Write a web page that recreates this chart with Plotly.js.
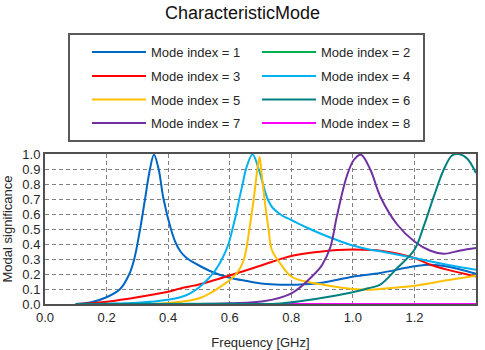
<!DOCTYPE html>
<html>
<head>
<meta charset="utf-8">
<script src="https://cdn.plot.ly/plotly-3.0.1.min.js"></script>
<style>html,body{margin:0;padding:0;background:#fff;}#chart{width:485px;height:350px;}</style>
</head>
<body>
<div id="chart"></div>
<script>
// ---- data ----
const modeNames = ['Mode index = 1','Mode index = 2','Mode index = 3','Mode index = 4',
                   'Mode index = 5','Mode index = 6','Mode index = 7','Mode index = 8'];
const modeColors = ['#0066C4','#00B050','#FF0000','#00B0F0','#FFC000','#008080','#7030A0','#FF00FF'];

const freq1 = [0.10,0.15,0.20,0.244,0.274,0.29,0.309,0.325,0.341,0.354,0.369,0.385,0.409,0.424,0.44,0.461,0.493,0.547,0.60,0.656,0.71,0.764,0.818,0.894,1.003,1.089,1.20,1.252,1.306,1.40];
const mode1 = [0.00,0.012,0.045,0.10,0.20,0.30,0.50,0.70,0.90,0.995,0.90,0.70,0.50,0.41,0.35,0.305,0.265,0.21,0.175,0.153,0.135,0.129,0.129,0.14,0.184,0.207,0.251,0.262,0.25,0.202];

const freq2 = [0.10,0.40,0.80,1.10,1.40];
const mode2 = [0,0,0,0,0];

const freq3 = [0.10,0.15,0.20,0.30,0.40,0.44,0.47,0.50,0.60,0.70,0.80,0.90,0.95,1.00,1.06,1.089,1.20,1.252,1.306,1.40];
const mode3 = [0.00,0.005,0.015,0.045,0.082,0.104,0.117,0.13,0.19,0.255,0.32,0.35,0.36,0.363,0.36,0.355,0.307,0.262,0.229,0.184];

const freq4 = [0.10,0.20,0.30,0.40,0.44,0.47,0.504,0.547,0.575,0.596,0.609,0.621,0.631,0.642,0.653,0.674,0.694,0.708,0.723,0.74,0.77,0.80,0.85,0.90,0.95,1.00,1.057,1.089,1.20,1.306,1.40];
const mode4 = [0.00,0.002,0.008,0.028,0.045,0.069,0.117,0.207,0.30,0.40,0.50,0.60,0.70,0.80,0.90,0.998,0.90,0.80,0.70,0.64,0.59,0.56,0.51,0.465,0.425,0.39,0.362,0.351,0.307,0.262,0.229];

const freq5 = [0.10,0.30,0.363,0.40,0.47,0.504,0.547,0.58,0.60,0.625,0.645,0.655,0.664,0.678,0.690,0.697,0.702,0.713,0.726,0.737,0.764,0.802,0.873,0.927,1.00,1.057,1.089,1.20,1.306,1.40];
const mode5 = [0.00,0.00,0.002,0.007,0.024,0.04,0.084,0.13,0.16,0.21,0.29,0.38,0.50,0.70,0.90,0.98,0.90,0.70,0.50,0.36,0.27,0.18,0.14,0.12,0.10,0.095,0.10,0.122,0.158,0.189];

const freq6 = [0.10,0.60,0.764,0.85,0.927,1.003,1.05,1.089,1.144,1.20,1.23,1.263,1.295,1.322,1.344,1.371,1.40];
const mode6 = [0.00,0.001,0.004,0.025,0.05,0.08,0.105,0.129,0.24,0.362,0.517,0.717,0.895,0.99,1.00,0.97,0.873];

const freq7 = [0.50,0.60,0.71,0.802,0.873,0.90,0.927,0.948,0.98,1.003,1.026,1.057,1.089,1.144,1.20,1.252,1.295,1.35,1.40];
const mode7 = [0.00,0.005,0.018,0.073,0.195,0.26,0.38,0.584,0.85,0.96,0.995,0.895,0.717,0.53,0.417,0.355,0.335,0.357,0.373];

const freq8 = [0.10,0.40,0.80,1.10,1.40];
const mode8 = [0,0,0,0,0];

const xTicks = [0,0.2,0.4,0.6,0.8,1.0,1.2,1.4];

// ---- build traces ----
const freqs = [freq1,freq2,freq3,freq4,freq5,freq6,freq7,freq8];
const vals  = [mode1,mode2,mode3,mode4,mode5,mode6,mode7,mode8];
const legendIds = ['legend','legend','legend2','legend2','legend3','legend3','legend4','legend4'];
const drawOrder = [1,7,0,2,3,4,6,5];
const traces = drawOrder.map(i => ({
  type:'scatter', mode:'lines', name: modeNames[i], x: freqs[i], y: vals[i],
  legend: legendIds[i], legendrank: i+1,
  line:{color: modeColors[i], width:2, shape:'spline', smoothing:1.0}
}));

const FONT = 'Arial, "Liberation Sans", sans-serif';
function rowLegend(yPx){
  return {orientation:'h', xref:'container', yref:'container', x:87/485, xanchor:'left',
          y:1 - yPx/350, yanchor:'middle', entrywidth:101, entrywidthmode:'pixels', itemwidth:54,
          traceorder:'normal', bgcolor:'rgba(0,0,0,0)', borderwidth:0,
          font:{family:FONT, size:13, color:'#262626'}};
}
const layout = {
  width:485, height:350,
  margin:{l:45, r:9, t:154, b:46},
  paper_bgcolor:'#fff', plot_bgcolor:'#fff',
  font:{family:FONT, size:13, color:'#262626'},
  title:{text:'CharacteristicMode', font:{family:FONT, size:18, color:'#111'},
         xref:'container', x:0.5, xanchor:'center', yref:'container', y:1 - 13/350, yanchor:'middle'},
  xaxis:{range:[0,1.4], tickvals:xTicks, tickformat:'.1f', showgrid:true, gridcolor:'#808080',
         griddash:'4px,3px', gridwidth:1, zeroline:false, showline:true, mirror:true,
         linecolor:'#505050', linewidth:2, ticks:'', fixedrange:true,
         title:{text:'Frequency [GHz]', font:{size:13}}},
  yaxis:{range:[0,1], dtick:0.1, tickformat:'.1f', showgrid:true, gridcolor:'#808080',
         griddash:'4px,3px', gridwidth:1, zeroline:false, showline:true, mirror:true,
         linecolor:'#505050', linewidth:2, ticks:'', fixedrange:true,
         title:{text:'Modal significance', font:{size:13}}},
  showlegend:true,
  legend: rowLegend(52),
  legend2: rowLegend(76),
  legend3: rowLegend(99.5),
  legend4: rowLegend(123),
  shapes:[{type:'rect', xref:'paper', yref:'paper', x0:(69-45)/431, x1:(424-45)/431,
           y0:(304-141)/150, y1:(304-34)/150, line:{color:'#595959', width:2}, fillcolor:'#fff', layer:'below'}]
};

Plotly.newPlot('chart', traces, layout, {displayModeBar:false, staticPlot:true});
</script>
</body>
</html>
